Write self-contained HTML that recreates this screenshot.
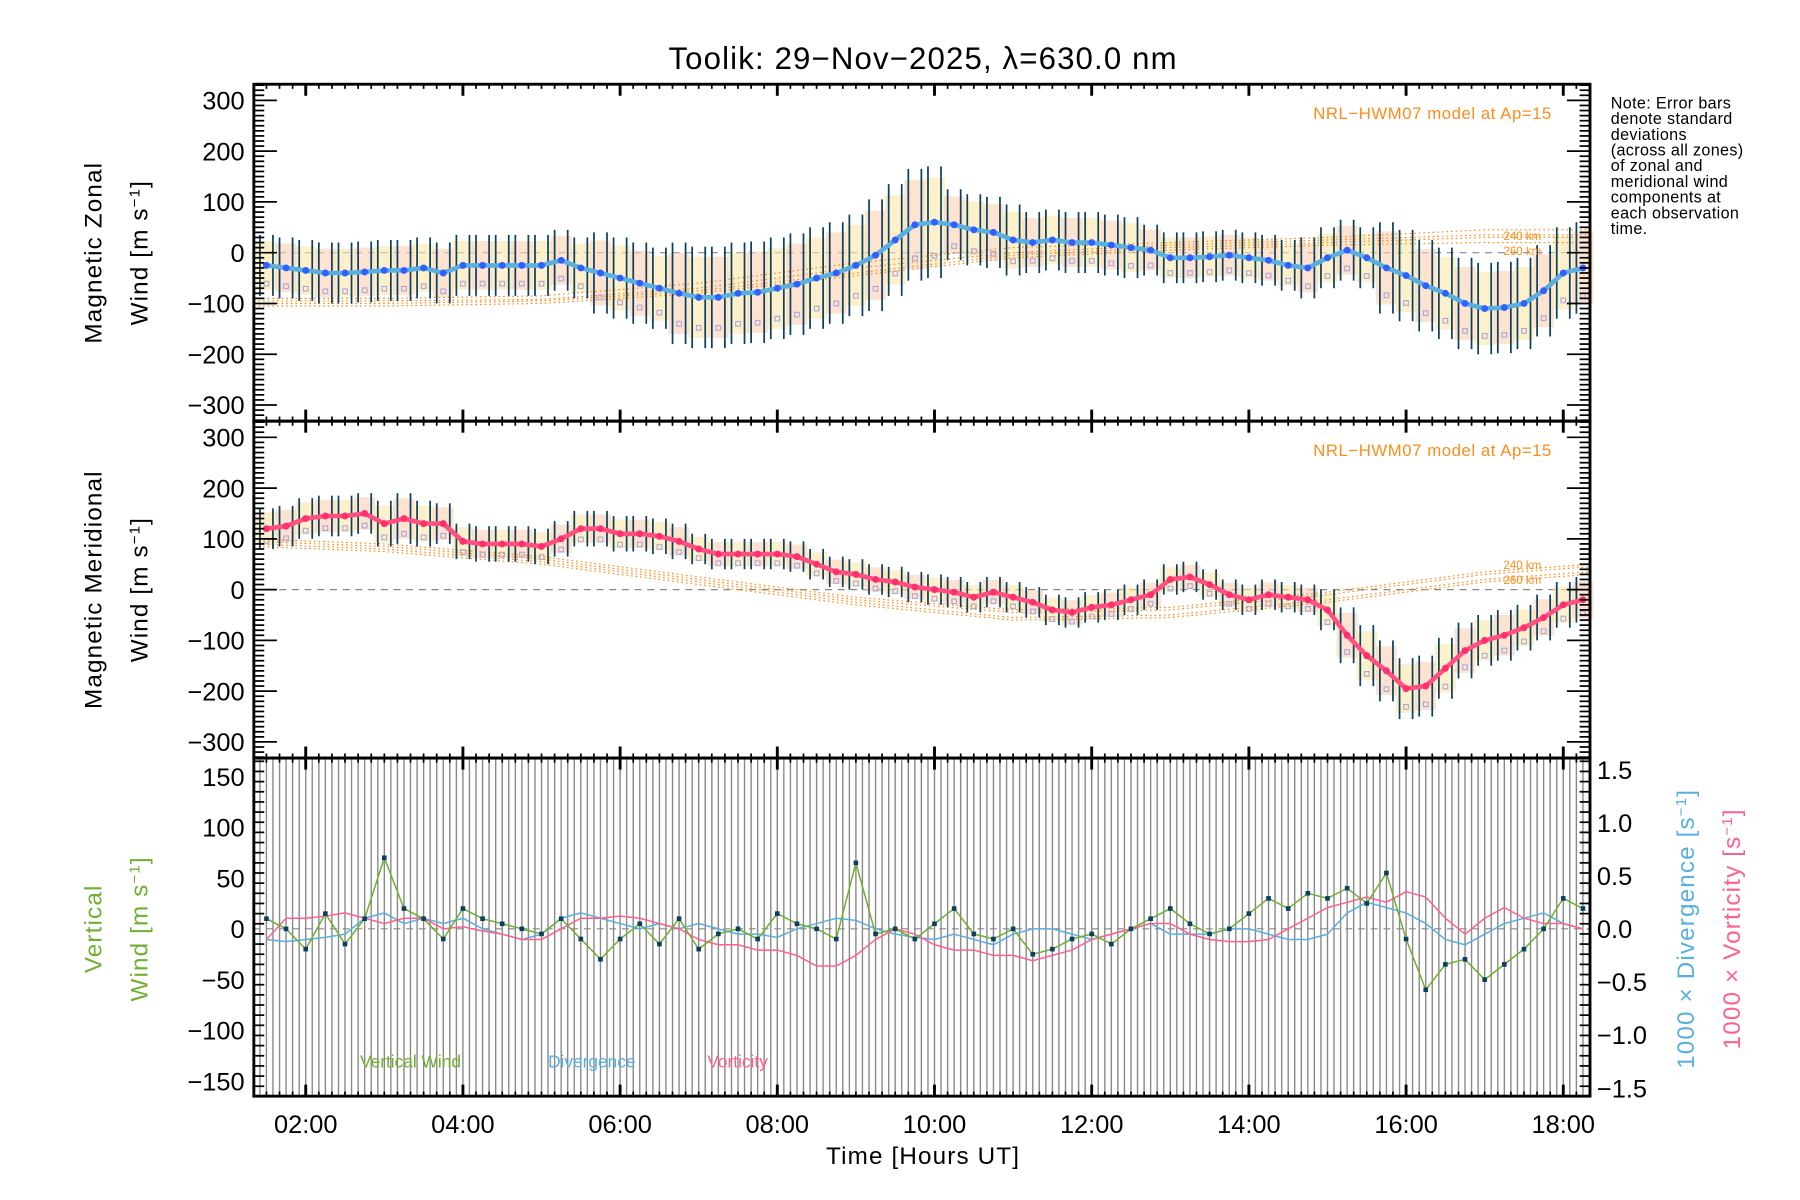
<!DOCTYPE html>
<html><head><meta charset="utf-8"><title>Toolik winds</title>
<style>html,body{margin:0;padding:0;background:#fff}svg{display:block}text{font-family:"Liberation Sans",sans-serif}</style>
</head><body>
<svg id="chart" xmlns="http://www.w3.org/2000/svg" width="1800" height="1200" viewBox="0 0 1560 1040" preserveAspectRatio="none">
<rect x="0" y="0" width="1560" height="1040" fill="#fff"/>
<text x="800" y="60" font-size="27" text-anchor="middle" letter-spacing="1">Toolik: 29−Nov−2025, λ=630.0 nm</text>
<g id="p1"></g>
<g id="p2"></g>
<g id="p3"></g>
<g id="ax"></g>
<text transform="translate(88,219) rotate(-90)" font-size="21" text-anchor="middle" letter-spacing="1">Magnetic Zonal</text>
<text transform="translate(128,219) rotate(-90)" font-size="21" text-anchor="middle" letter-spacing="1">Wind [m s<tspan baseline-shift="super" font-size="13">−1</tspan>]</text>
<text transform="translate(88,511) rotate(-90)" font-size="21" text-anchor="middle" letter-spacing="1">Magnetic Meridional</text>
<text transform="translate(128,511) rotate(-90)" font-size="21" text-anchor="middle" letter-spacing="1">Wind [m s<tspan baseline-shift="super" font-size="13">−1</tspan>]</text>
<text transform="translate(88,805) rotate(-90)" font-size="21" text-anchor="middle" fill="#6fb030" letter-spacing="1">Vertical</text>
<text transform="translate(128,805) rotate(-90)" font-size="21" text-anchor="middle" fill="#6fb030" letter-spacing="1">Wind [m s<tspan baseline-shift="super" font-size="13">−1</tspan>]</text>
<text transform="translate(1468,805) rotate(-90)" font-size="21" text-anchor="middle" fill="#5aaee0" letter-spacing="1">1000 × Divergence [s<tspan baseline-shift="super" font-size="13">−1</tspan>]</text>
<text transform="translate(1508,805) rotate(-90)" font-size="21" text-anchor="middle" fill="#ff6090" letter-spacing="1">1000 × Vorticity [s<tspan baseline-shift="super" font-size="13">−1</tspan>]</text>
<text x="800" y="1009" font-size="21" text-anchor="middle" letter-spacing="1">Time [Hours UT]</text>
<text x="1345" y="103" font-size="14.5" text-anchor="end" fill="#ff8c1a" letter-spacing="0.5">NRL−HWM07 model at Ap=15</text>
<text x="1345" y="395" font-size="14.5" text-anchor="end" fill="#ff8c1a" letter-spacing="0.5">NRL−HWM07 model at Ap=15</text>
<text x="1303" y="208" font-size="10" fill="#ff8c1a">240 km</text>
<text x="1303" y="221" font-size="10" fill="#ff8c1a">260 km</text>
<text x="1303" y="493" font-size="10" fill="#ff8c1a">240 km</text>
<text x="1303" y="506" font-size="10" fill="#ff8c1a">260 km</text>
<text x="1396" y="94" font-size="14" letter-spacing="0.3">
<tspan x="1396" dy="0">Note: Error bars</tspan><tspan x="1396" dy="13.6">denote standard</tspan><tspan x="1396" dy="13.6">deviations</tspan><tspan x="1396" dy="13.6">(across all zones)</tspan><tspan x="1396" dy="13.6">of zonal and</tspan><tspan x="1396" dy="13.6">meridional wind</tspan><tspan x="1396" dy="13.6">components at</tspan><tspan x="1396" dy="13.6">each observation</tspan><tspan x="1396" dy="13.6">time.</tspan></text>
<text x="312" y="925" font-size="15" fill="#6fb030">Vertical Wind</text>
<text x="475" y="925" font-size="15" fill="#5aaee0">Divergence</text>
<text x="613" y="925" font-size="15" fill="#ff6090">Vorticity</text>
</svg>
<script>
const T0 = 1.5, DT = 0.25;
const zonal = [-25,-30,-35,-40,-40,-38,-35,-35,-30,-40,-25,-25,-25,-25,-25,-15,-30,-40,-50,-60,-70,-80,-88,-88,-80,-78,-70,-62,-50,-40,-25,-5,25,55,60,55,45,40,25,20,25,20,20,15,10,5,-10,-10,-8,-5,-10,-15,-25,-30,-10,5,-10,-30,-45,-65,-80,-100,-110,-108,-100,-75,-40,-30];
const zonalStd = [60,60,60,60,60,60,60,60,60,60,60,60,60,60,60,60,60,80,80,80,80,100,100,100,100,100,100,100,100,100,100,110,110,110,110,70,70,70,70,60,60,60,60,60,60,50,50,50,50,50,50,50,50,60,60,60,60,90,90,90,90,90,90,90,90,90,90,90];
const merid = [120,125,140,145,145,150,130,140,130,130,95,90,90,90,85,100,120,120,110,110,105,95,80,70,70,70,70,65,50,35,30,20,15,5,0,-5,-15,-5,-15,-25,-40,-45,-35,-30,-20,-10,20,25,10,-10,-20,-10,-15,-20,-40,-90,-130,-160,-195,-190,-155,-120,-100,-90,-75,-55,-30,-20];
const meridStd = [40,40,40,40,40,40,45,50,45,40,35,35,35,35,35,35,35,35,35,35,35,35,30,30,30,30,30,30,30,30,30,30,30,30,30,30,30,30,30,30,30,30,30,30,30,30,30,30,30,30,30,30,30,30,40,55,60,60,60,60,60,55,50,50,45,45,45,45];
const vert = [10,0,-20,15,-15,10,70,20,10,-10,20,10,5,0,-5,10,-10,-30,-10,5,-15,10,-20,-5,0,-10,15,5,0,-10,65,-5,0,-10,5,20,-5,-10,0,-25,-20,-10,-5,-15,0,10,20,5,-5,0,15,30,20,35,30,40,25,55,-10,-60,-35,-30,-50,-35,-20,0,30,20];
const diverg = [-0.1,-0.12,-0.1,-0.08,-0.05,0.1,0.15,0.05,0.1,0.05,0.1,0.0,-0.05,-0.1,-0.05,0.1,0.15,0.1,0.05,0.0,0.05,0.0,0.05,0.0,-0.05,-0.05,-0.08,0.0,0.05,0.1,0.08,0.0,-0.05,-0.08,-0.1,-0.05,-0.1,-0.15,-0.05,0.0,0.0,-0.05,-0.1,-0.05,0.0,0.05,-0.05,-0.05,-0.05,0.0,0.0,-0.05,-0.1,-0.1,-0.05,0.15,0.25,0.2,0.15,0.05,-0.1,-0.15,-0.05,0.05,0.1,0.15,0.05,0.0];
const vort = [-0.1,0.1,0.1,0.12,0.15,0.1,0.05,0.1,0.1,0.0,0.02,-0.02,-0.05,-0.1,-0.1,0.0,0.1,0.1,0.12,0.1,0.05,0.0,-0.1,-0.15,-0.15,-0.2,-0.2,-0.25,-0.35,-0.35,-0.25,-0.1,0.0,-0.05,-0.15,-0.2,-0.2,-0.25,-0.25,-0.3,-0.25,-0.2,-0.1,-0.05,0.0,0.05,0.05,-0.05,-0.1,-0.12,-0.12,-0.1,0.0,0.1,0.2,0.25,0.3,0.25,0.35,0.3,0.1,-0.05,0.1,0.2,0.1,0.05,0.05,0.0];
const modelHours = [1.3,3,5,7,9,11,13,15,17,18.4];
const modelZonal = [[-90,-90,-85,-60,-20,10,20,30,45,45],[-100,-100,-95,-75,-40,-5,10,20,30,30],[-95,-95,-92,-70,-30,0,15,25,35,35],[-105,-105,-100,-80,-45,-10,5,15,20,20]];
const modelMerid = [[95,85,60,20,-20,-45,-40,-10,30,45],[90,80,55,15,-25,-55,-50,-20,20,35],[100,90,65,25,-15,-40,-35,-5,35,50],[85,75,50,10,-30,-60,-55,-25,15,30]];
const xTicks = ["02:00","04:00","06:00","08:00","10:00","12:00","14:00","16:00","18:00"];
const xTickHours = [2,4,6,8,10,12,14,16,18];
const yTicksWind = [300,200,100,0,-100,-200,-300];
const yTicksVert = [150,100,50,0,-50,-100,-150];
const yTicksRight = ["1.5","1.0","0.5","0.0","−0.5","−1.0","−1.5"];
const yTicksRightVal = [1.5,1.0,0.5,0,-0.5,-1.0,-1.5];

const NS="http://www.w3.org/2000/svg";
const L=220,R=1378;
const xs=h=>L+(h-1.34)*(R-L)/17;
const y1=v=>219-v*0.44, y2=v=>511-v*0.44, y3=v=>805-v*0.88, y3r=v=>805-v*92;
function mk(tag,par,at){const e=document.createElementNS(NS,tag);for(const k in at)e.setAttribute(k,at[k]);par.appendChild(e);return e;}
const th=i=>T0+i*DT;
function clipV(y,top,bot){return Math.max(top,Math.min(bot,y));}

function windPanel(gid,vals,std,ys,top,bot,lineCol,model,dotCol){
  const g=document.getElementById(gid);
  let z=mk('line',g,{x1:L,x2:R,y1:ys(0),y2:ys(0),stroke:'#888','stroke-dasharray':'6,5','stroke-width':1});
  
  
  vals.forEach((v,i)=>{const x=xs(th(i));
    const b=mk('rect',g,{x:x-9,y:ys(v+std[i]*0.8),width:18,height:ys(v-std[i]*0.8)-ys(v+std[i]*0.8),fill:i%2?'#fbd0b0':'#fbe6a8',opacity:0.6});
    
    });
  model.forEach((m,k)=>{const p=mk('polyline',g,{points:modelHours.map((h,j)=>xs(Math.min(Math.max(h,1.34),18.34))+','+ys(m[j])).join(' '),fill:'none',stroke:'#ff8c1a','stroke-width':1,'stroke-dasharray':'1.5,2.5'});
    
    });
  vals.forEach((v,i)=>{for(const o of [-0.083,0.083]){const x=xs(th(i)+o);
    const e=mk('line',g,{x1:x,x2:x,y1:clipV(ys(v+std[i]),top,bot),y2:clipV(ys(v-std[i]),top,bot),stroke:'#0b4060','stroke-width':1.5});
    
    }
    const q=mk('rect',g,{x:xs(th(i))-2,y:ys(v-std[i]*0.6)-2,width:4,height:4,fill:'none',stroke:'#b0a8d8','stroke-width':1});
    
    });
  const ln=mk('polyline',g,{points:vals.map((v,i)=>xs(th(i))+','+ys(v)).join(' '),fill:'none',stroke:lineCol,'stroke-width':4});
  
  
  vals.forEach((v,i)=>{const c=mk('circle',g,{cx:xs(th(i)),cy:ys(v),r:3,fill:dotCol});
    
    });
}
windPanel('p1',zonal,zonalStd,y1,73,365,'#5aaee0',modelZonal,'#3060ff');
windPanel('p2',merid,meridStd,y2,365,657,'#ff5080',modelMerid,'#ff3070');

const g3=document.getElementById('p3');
vert.forEach((v,i)=>{for(const o of [-0.083,0,0.083]){const x=xs(th(i)+o);
  const e=mk('line',g3,{x1:x,x2:x,y1:657,y2:950,stroke:'#888','stroke-width':1.2});
  
  }});
let z3=mk('line',g3,{x1:L,x2:R,y1:805,y2:805,stroke:'#888','stroke-dasharray':'6,5'});


const dl=mk('polyline',g3,{points:diverg.map((v,i)=>xs(th(i))+','+y3r(v)).join(' '),fill:'none',stroke:'#5aaee0','stroke-width':1.3});


const wl=mk('polyline',g3,{points:vort.map((v,i)=>xs(th(i))+','+y3r(v)).join(' '),fill:'none',stroke:'#ff6090','stroke-width':1.3});


const vl=mk('polyline',g3,{points:vert.map((v,i)=>xs(th(i))+','+y3(v)).join(' '),fill:'none',stroke:'#6fb030','stroke-width':1.3});


vert.forEach((v,i)=>{const c=mk('rect',g3,{x:xs(th(i))-2,y:y3(v)-2,width:4,height:4,fill:'#0b4060'});
  
  });

const ax=document.getElementById('ax');
[[73,365],[365,657],[657,950]].forEach(([t,b])=>{const r=mk('rect',ax,{x:L,y:t,width:R-L,height:b-t,fill:'none',stroke:'#000','stroke-width':2.5});
  
  });
function yAxis(ys,lo,hi,minor,major,labels,vals,top,bot){
  for(let v=lo;v<=hi+1e-9;v+=minor){const y=ys(v);if(y<top||y>bot)continue;
    const mj=Math.abs(v/major-Math.round(v/major))<1e-6,len=mj?20:9;
    const a=mk('line',ax,{x1:L,x2:L+len,y1:y,y2:y,stroke:'#000','stroke-width':1.5});
    
    
    const b=mk('line',ax,{x1:R,x2:R-len,y1:y,y2:y,stroke:'#000','stroke-width':1.5});
    
    }
  vals.forEach((v,i)=>{const t=mk('text',ax,{x:212,y:ys(v)+8,'font-size':22,'text-anchor':'end'});
    t.textContent=labels[i];
    
    });
}
yAxis(y1,-330,330,10,100,yTicksWind.map(v=>String(v).replace('-','−')),yTicksWind,73,365);
yAxis(y2,-330,330,10,100,yTicksWind.map(v=>String(v).replace('-','−')),yTicksWind,365,657);
yAxis(y3,-165,165,10,50,yTicksVert.map(v=>String(v).replace('-','−')),yTicksVert,657,950);
yTicksRightVal.forEach((v,i)=>{const t=mk('text',ax,{x:1384,y:y3r(v)+8,'font-size':22});
  t.textContent=yTicksRight[i];
  
  });
[[73,365],[365,657],[657,950]].forEach(([t,b])=>{
  for(let m=80;m<=1100;m+=10){const h=m/60;const x=xs(h);if(x<L||x>R)continue;
    const mj=m%120===0,len=mj?10:4;
    const a=mk('line',ax,{x1:x,x2:x,y1:b,y2:b-len,stroke:'#000','stroke-width':mj?2.5:1.5});
    
    
    const c=mk('line',ax,{x1:x,x2:x,y1:t,y2:t+len,stroke:'#000','stroke-width':mj?2.5:1.5});
    
    }});
xTickHours.forEach((h,i)=>{const t=mk('text',ax,{x:xs(h),y:982,'font-size':22,'text-anchor':'middle'});
  t.textContent=xTicks[i];
  
  });
</script>
</body></html>
